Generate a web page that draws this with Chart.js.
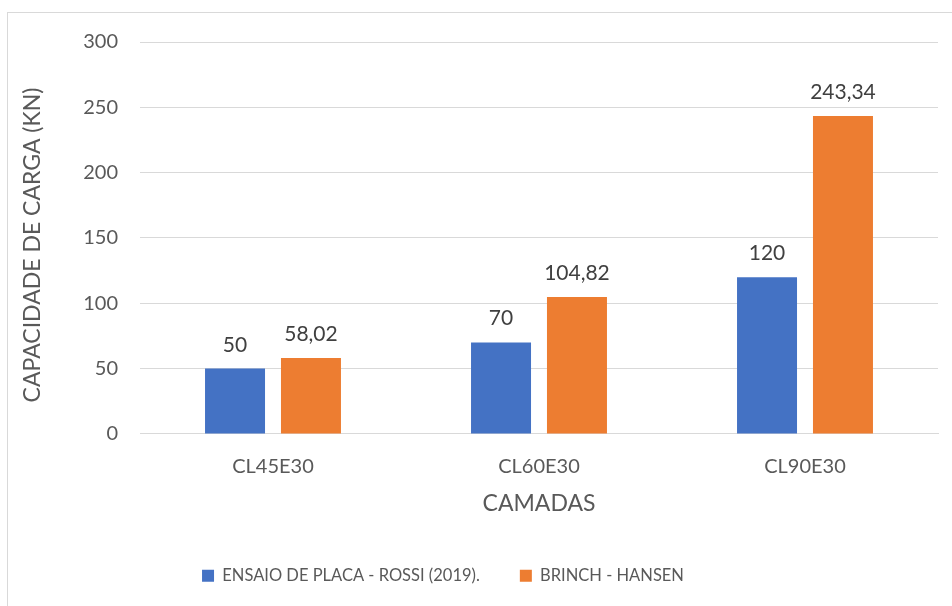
<!DOCTYPE html>
<html>
<head>
<meta charset="utf-8">
<script src="https://cdn.jsdelivr.net/npm/chart.js@4/dist/chart.umd.min.js"></script>
<style>
html,body{margin:0;padding:0;background:#fff;width:952px;height:606px;overflow:hidden;}
#frame{position:absolute;left:7px;top:12px;width:1000px;height:700px;border:1px solid #d9d9d9;box-sizing:border-box;}
#wrap{position:absolute;left:0;top:0;width:952px;height:606px;}
</style>
</head>
<body>
<div id="frame"></div>
<div id="wrap"><canvas id="c" width="952" height="606"></canvas></div>
<script>
const categories = ["CL45E30", "CL60E30", "CL90E30"];
const seriesNames = ["ENSAIO DE PLACA - ROSSI (2019).", "BRINCH - HANSEN"];
const ensaioValues = [50, 70, 120];
const brinchValues = [58.02, 104.82, 243.34];
const yTicks = [0, 50, 100, 150, 200, 250, 300];
const yTitle = "CAPACIDADE DE CARGA (KN)";
const xTitle = "CAMADAS";

const FONT = "Lato, 'Open Sans', sans-serif";
const fmt = v => String(v).replace('.', ',');

const dataLabels = {
  id: 'dataLabels',
  afterDatasetsDraw(chart) {
    const ctx = chart.ctx;
    ctx.save();
    ctx.font = "21px " + FONT;
    ctx.fillStyle = "#404040";
    ctx.textAlign = "center";
    ctx.textBaseline = "alphabetic";
    chart.data.datasets.forEach((ds, i) => {
      chart.getDatasetMeta(i).data.forEach((bar, j) => {
        ctx.fillText(fmt(ds.data[j]), bar.x, bar.y - 17);
      });
    });
    ctx.restore();
  }
};

const yTitlePlugin = {
  id: 'yTitlePlugin',
  afterDraw(chart) {
    const ctx = chart.ctx;
    ctx.save();
    ctx.translate(33, 245);
    ctx.rotate(-Math.PI / 2);
    ctx.font = "23px " + FONT;
    ctx.fillStyle = "#595959";
    ctx.textAlign = "center";
    ctx.textBaseline = "middle";
    ctx.fillText(yTitle, 0, 0);
    ctx.restore();
  }
};

const legendShift = {
  id: 'legendShift',
  afterLayout(chart) {
    if (chart.legend) { chart.legend.left -= 26; chart.legend.right -= 26; }
  }
};

new Chart(document.getElementById('c'), {
  type: 'bar',
  data: {
    labels: categories,
    datasets: [
      { label: seriesNames[0], data: ensaioValues, backgroundColor: '#4472C4', categoryPercentage: 0.571, barPercentage: 0.79 },
      { label: seriesNames[1], data: brinchValues, backgroundColor: '#ED7D31', categoryPercentage: 0.571, barPercentage: 0.79 }
    ]
  },
  options: {
    responsive: false,
    animation: false,
    layout: { padding: { left: 0, right: 14, top: 42, bottom: 12 } },
    plugins: {
      legend: {
        position: 'bottom',
        labels: {
          boxWidth: 12, boxHeight: 12, padding: 40,
          color: '#595959',
          font: { family: FONT, size: 16.5 }
        }
      },
      tooltip: { enabled: false }
    },
    scales: {
      x: {
        afterFit(scale) { scale.height = scale.height - 22; },
        grid: { display: false, drawTicks: false },
        border: { display: true, color: '#d9d9d9', width: 1 },
        ticks: { color: '#595959', padding: 21, font: { family: FONT, size: 20 } },
        title: { display: true, text: xTitle, color: '#595959', font: { family: FONT, size: 23 }, padding: { top: 12, bottom: 10 } }
      },
      y: {
        min: 0, max: 300,
        afterBuildTicks(scale) { scale.ticks = yTicks.map(v => ({ value: v })); },
        afterFit(scale) { scale.width = 140; },
        grid: { color: '#d9d9d9', lineWidth: 1, drawTicks: false },
        border: { display: false },
        ticks: { color: '#595959', padding: 22, font: { family: FONT, size: 20 } },
        title: { display: false }
      }
    }
  },
  plugins: [dataLabels, yTitlePlugin, legendShift]
});
</script>
</body>
</html>
